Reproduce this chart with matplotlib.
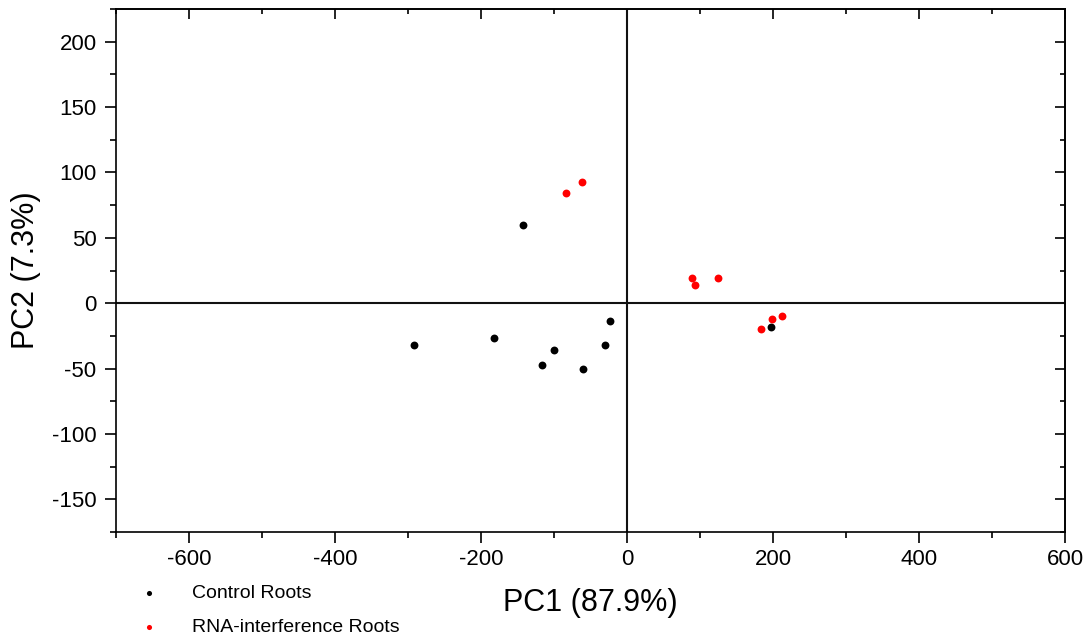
import matplotlib
matplotlib.use("Agg")
import matplotlib.pyplot as plt
from matplotlib.ticker import MultipleLocator

plt.rcParams['font.family'] = ['Liberation Sans', 'DejaVu Sans']
plt.rcParams['axes.unicode_minus'] = False

# PCA scores
control_pc1 = [-142, -292, -182, -100, -117, -60, -30, -23, 197]
control_pc2 = [60, -32, -27, -36, -47, -50, -32, -14, -18]

rnai_pc1 = [-62, -84, 89, 93, 124, 199, 212, 183]
rnai_pc2 = [93, 84, 19, 14, 19, -12, -10, -20]

series_labels = ["Control Roots", "RNA-interference Roots"]
xlabel = "PC1 (87.9%)"
ylabel = "PC2 (7.3%)"

fig = plt.figure(figsize=(10.91, 6.38), dpi=100)
ax = fig.add_axes([116 / 1091, 1 - 532 / 638, (1065 - 116) / 1091, (532 - 9) / 638])

ax.axhline(0, color="#111111", lw=1.5, zorder=1)
ax.axvline(0, color="#111111", lw=1.5, zorder=1)

ax.scatter(control_pc1, control_pc2, s=32, color="black", label=series_labels[0], zorder=3, linewidths=0)
ax.scatter(rnai_pc1, rnai_pc2, s=32, color="#ff0000", label=series_labels[1], zorder=3, linewidths=0)

ax.set_xlim(-700, 600)
ax.set_ylim(-175, 225)
ax.xaxis.set_major_locator(MultipleLocator(200))
ax.xaxis.set_minor_locator(MultipleLocator(100))
ax.yaxis.set_major_locator(MultipleLocator(50))
ax.yaxis.set_minor_locator(MultipleLocator(25))

for s in ax.spines.values():
    s.set_linewidth(1.2)

ax.tick_params(axis="both", which="major", length=8, width=1.2, labelsize=16, direction="out")
ax.tick_params(axis="both", which="minor", length=4, width=1.2, direction="out")
ax.tick_params(axis="x", which="major", pad=4.5)
ax.tick_params(axis="y", which="major", pad=6)

# inward ticks mirrored on the top and right spines
top = ax.secondary_xaxis("top")
top.set_xticks(range(-600, 601, 200))
top.xaxis.set_minor_locator(MultipleLocator(100))
top.tick_params(which="major", direction="in", length=7, width=1.2, labeltop=False)
top.tick_params(which="minor", direction="in", length=3.5, width=1.2)
right = ax.secondary_yaxis("right")
right.set_yticks(range(-150, 201, 50))
right.yaxis.set_minor_locator(MultipleLocator(25))
right.tick_params(which="major", direction="in", length=7, width=1.2, labelright=False)
right.tick_params(which="minor", direction="in", length=3.5, width=1.2)
top.spines["top"].set_linewidth(1.2)
right.spines["right"].set_linewidth(1.2)

ax.set_xlabel(xlabel, fontsize=22, labelpad=13)
ax.set_ylabel(ylabel, fontsize=22, labelpad=8)

fig.legend(loc="upper left", bbox_to_anchor=(139 / 1091, 1 - 584 / 638),
           frameon=False, fontsize=14, handlelength=1.0, handletextpad=1.7,
           labelspacing=0.88, borderpad=0, borderaxespad=0, markerscale=0.65,
           scatterpoints=1)

fig.savefig("out.png", dpi=100, facecolor="white")
